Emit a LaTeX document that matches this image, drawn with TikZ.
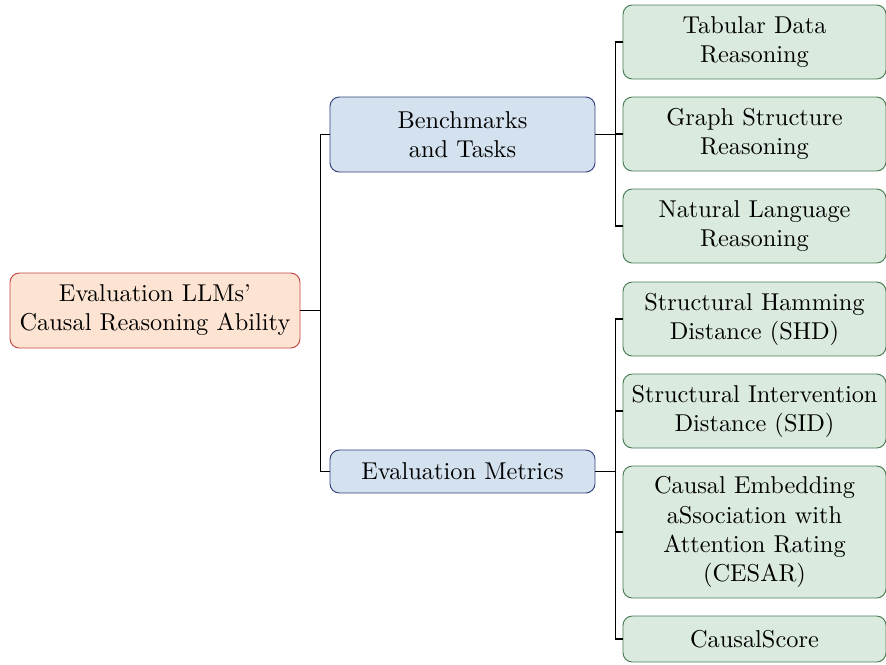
\documentclass[tikz,border=0pt]{standalone}
\usepackage{xcolor}
\usepackage{tikz}
\usetikzlibrary{positioning}
\definecolor{rootfill}{RGB}{253,228,210}
\definecolor{rootline}{RGB}{196,70,70}
\definecolor{midfill}{RGB}{212,226,239}
\definecolor{midline}{RGB}{55,65,125}
\definecolor{leaffill}{RGB}{218,234,222}
\definecolor{leafline}{RGB}{75,125,85}
\tikzset{
    boxfont/.style={font=\fontsize{10.4}{12.4}\selectfont},
    rootbox/.style={rectangle, rounded corners=4pt, draw=rootline, fill=rootfill, boxfont, minimum width=4.35cm, minimum height=1.125cm, text centered, align=center},
    midbox/.style={rectangle, rounded corners=4pt, draw=midline, fill=midfill, boxfont, minimum width=3.975cm, text centered, align=center},
    leafbox/.style={rectangle, rounded corners=4pt, draw=leafline, fill=leaffill, boxfont, minimum width=3.945cm, minimum height=1.11cm, text centered, align=center},
    link/.style={draw=black, line width=0.5pt}
}
\begin{document}
\begin{tikzpicture}[x=0.015cm, y=-0.015cm]
    \useasboundingbox (0,0) rectangle (886,664);

    % Root
    \node[rootbox] (root) at (155,310.5) {Evaluation LLMs'\\Causal Reasoning Ability};

    % Second level
    \node[midbox, minimum height=1.125cm] (bench) at (462.5,134.5) {Benchmarks\\and Tasks};
    \node[midbox, minimum height=0.645cm] (metrics) at (462.5,471.5) {Evaluation Metrics};

    % Leaves
    \node[leafbox] (tabular) at (754.5,42) {Tabular Data\\Reasoning};
    \node[leafbox] (graph) at (754.5,134) {Graph Structure\\Reasoning};
    \node[leafbox] (natural) at (754.5,226) {Natural Language\\Reasoning};
    \node[leafbox] (shd) at (754.5,319) {Structural Hamming\\Distance (SHD)};
    \node[leafbox] (sid) at (754.5,411) {Structural Intervention\\Distance (SID)};
    \node[leafbox, minimum height=1.98cm] (cesar) at (754.5,532) {Causal Embedding\\aSsociation with\\Attention Rating\\(CESAR)};
    \node[leafbox, minimum height=0.69cm] (score) at (754.5,639) {CausalScore};

    % Connections
    \foreach \child in {bench,metrics}
        \draw[link] (root.east) -- ++(20,0) |- (\child.west);
    \foreach \child in {tabular,graph,natural}
        \draw[link] (bench.east) -- ++(20,0) |- (\child.west);
    \foreach \child in {shd,sid,cesar,score}
        \draw[link] (metrics.east) -- ++(20,0) |- (\child.west);
\end{tikzpicture}
\end{document}
